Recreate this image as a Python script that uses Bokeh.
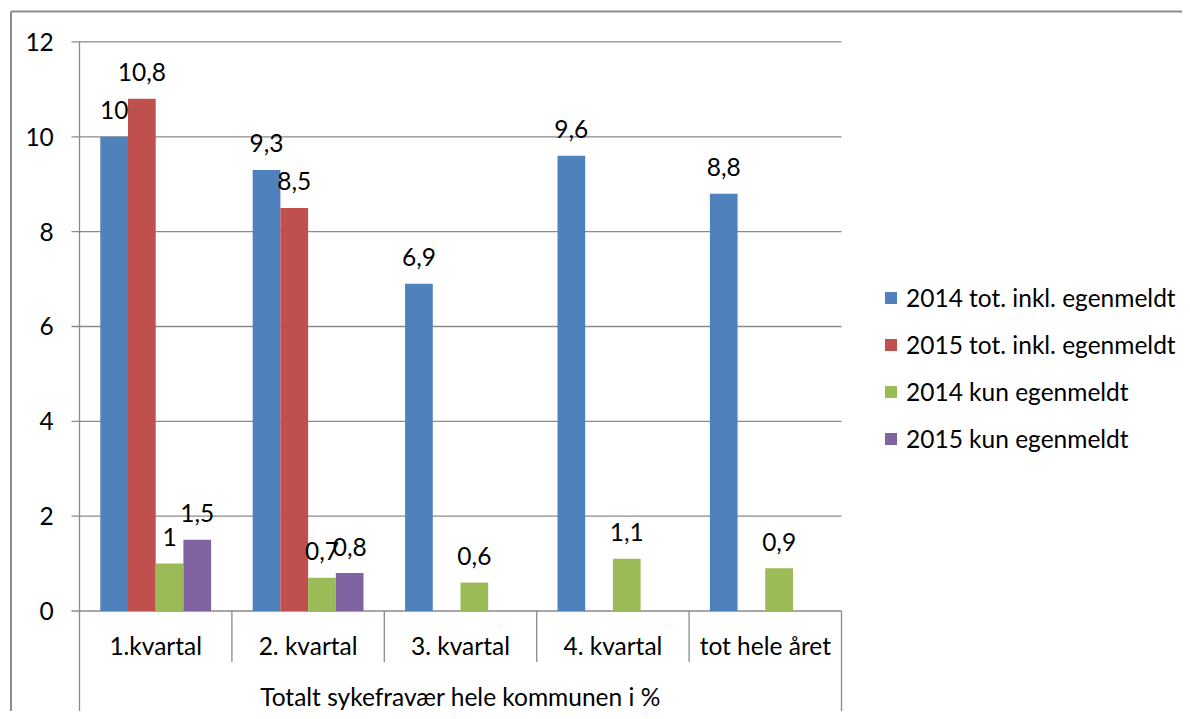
import numpy as np
from bokeh.plotting import figure
from bokeh.models import Range1d, Legend, LegendItem, ColumnDataSource
from bokeh.core.properties import value
from bokeh.embed import file_html
from bokeh.resources import INLINE

# ---- data ----
categories = ["1.kvartal", "2. kvartal", "3. kvartal", "4. kvartal", "tot hele året"]
group_label = "Totalt sykefravær hele kommunen i %"
series_names = ["2014 tot. inkl. egenmeldt", "2015 tot. inkl. egenmeldt",
                "2014 kun egenmeldt", "2015 kun egenmeldt"]
tot_2014 = [10.0, 9.3, 6.9, 9.6, 8.8]
tot_2015 = [10.8, 8.5, None, None, None]
egen_2014 = [1.0, 0.7, 0.6, 1.1, 0.9]
egen_2015 = [1.5, 0.8, None, None, None]
y_ticks = [0, 2, 4, 6, 8, 10, 12]

colors = ["#4F81BD", "#C0504D", "#9BBB59", "#8064A2"]
series = [tot_2014, tot_2015, egen_2014, egen_2015]

FONT = "Lato"
FS = "24.5px"
GRID = "#8a8a8a"
W, H = 1182, 711

# pixel geometry (canvas px == picture px)
PX_U = 152.4      # px per category
PX_V = 47.42      # px per value unit
X0 = 79.0         # x of category axis start
Y0 = 610.5        # y of value 0

x_range = Range1d(-X0 / PX_U, (W - X0) / PX_U)
y_range = Range1d(-(H - Y0) / PX_V, Y0 / PX_V)

p = figure(width=W, height=H, x_range=x_range, y_range=y_range,
           output_backend="svg", toolbar_location=None,
           min_border=0, min_border_left=0, min_border_right=0,
           min_border_top=0, min_border_bottom=0)
p.axis.visible = False
p.grid.visible = False
p.outline_line_color = None
p.background_fill_color = "white"
p.border_fill_color = "white"

def px_u(px):
    return px / PX_U

def px_v(px):
    return px / PX_V

n = len(categories)
idx = np.arange(n)
bar_w = 1.0 / 5.5
offsets = [-1.5 * bar_w, -0.5 * bar_w, 0.5 * bar_w, 1.5 * bar_w]

# outer chart border (top and left visible)
bottom_v = y_range.start - 0.5
bx = px_u(10.5 - X0)
by = px_v(Y0 - 11)
p.segment(x0=[bx], y0=[by], x1=[bx], y1=[bottom_v], line_color="#8c8c8c", line_width=2)
p.segment(x0=[bx], y0=[by], x1=[x_range.end + 1], y1=[by], line_color="#8c8c8c", line_width=2)

# gridlines + tick marks
tick_len = px_u(8)
p.segment(x0=[-tick_len] * len(y_ticks), y0=y_ticks, x1=[n] * len(y_ticks), y1=y_ticks,
          line_color=GRID, line_width=1.3)
# y axis line (continues down as category group border)
p.segment(x0=[0], y0=[y_ticks[-1]], x1=[0], y1=[bottom_v], line_color=GRID, line_width=1.3)
# right border of category area
p.segment(x0=[n], y0=[0], x1=[n], y1=[bottom_v], line_color=GRID, line_width=1.3)
# category separators
sep_x = list(range(1, n))
p.segment(x0=sep_x, y0=[0] * len(sep_x), x1=sep_x, y1=[-px_v(51)] * len(sep_x),
          line_color=GRID, line_width=1.3)

txt = dict(text_font=value(FONT), text_font_size=value(FS), text_color="black",
           text_baseline="middle")

# y tick labels
p.text(x=[px_u(53.3 - X0)] * len(y_ticks), y=y_ticks,
       text=[str(t) for t in y_ticks], text_align="right", **txt)

# bars
renderers = []
for s, vals, col, off in zip(series_names, series, colors, offsets):
    top = [np.nan if v is None else v for v in vals]
    src = ColumnDataSource(dict(x=idx + 0.5 + off, top=top))
    r = p.vbar(x="x", top="top", bottom=0, width=bar_w, source=src,
               fill_color=col, line_color=None)
    renderers.append(r)

# value labels
def fmt(v):
    s = ("%.1f" % v).rstrip("0").rstrip(".")
    return s.replace(".", ",")

lx, ly, lt = [], [], []
for vals, off in zip(series, offsets):
    for i, v in enumerate(vals):
        if v is None:
            continue
        lx.append(i + 0.5 + off)
        ly.append(v + px_v(26.5))
        lt.append(fmt(v))
p.text(x=lx, y=ly, text=lt, text_align="center", **txt)

# category labels
p.text(x=idx + 0.5, y=[-px_v(644.7 - Y0)] * n, text=categories,
       text_align="center", **txt)
p.text(x=[n / 2], y=[-px_v(695.8 - Y0)], text=[group_label],
       text_align="center", **txt)

# legend
leg_h = 4 * 30 + 3 * 17
legend = Legend(items=[LegendItem(label=s, renderers=[r]) for s, r in zip(series_names, renderers)],
                location=(883, H - 282 - leg_h),
                glyph_width=15, glyph_height=15, label_standoff=8,
                label_height=30, spacing=17, padding=0, margin=0,
                border_line_color=None, background_fill_alpha=0,
                label_text_font=FONT, label_text_font_size=FS,
                label_text_color="black")
p.add_layout(legend)

open("out.html", "w").write(file_html(p, INLINE))
